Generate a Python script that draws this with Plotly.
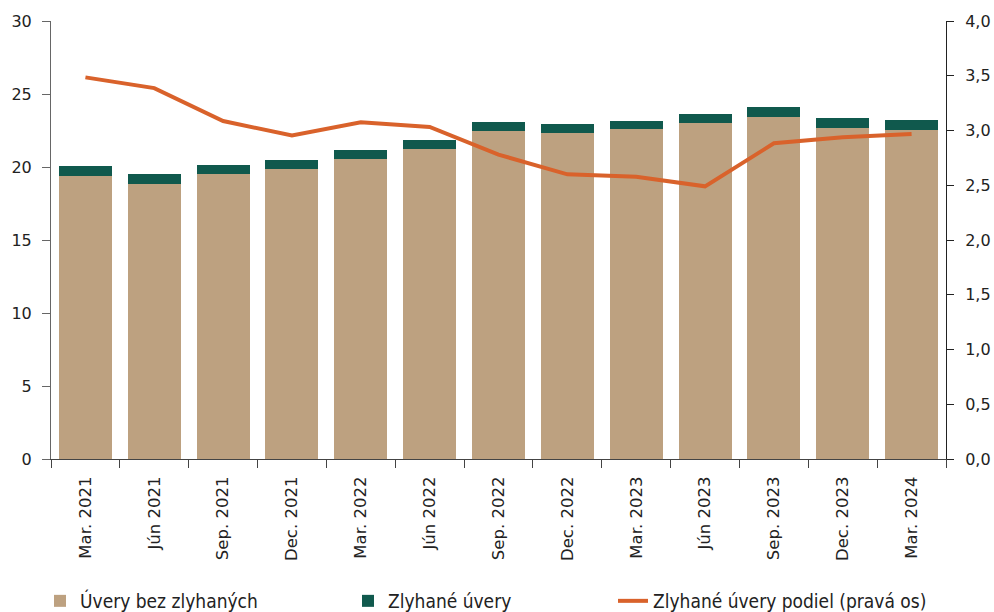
import plotly.graph_objects as go

categories = ["Mar. 2021", "Jún 2021", "Sep. 2021", "Dec. 2021", "Mar. 2022", "Jún 2022",
              "Sep. 2022", "Dec. 2022", "Mar. 2023", "Jún 2023", "Sep. 2023", "Dec. 2023", "Mar. 2024"]
performing = [19.36, 18.83, 19.54, 19.88, 20.54, 21.23, 22.46, 22.35, 22.58, 23.01, 23.43, 22.67, 22.53]
npl = [0.68, 0.66, 0.59, 0.60, 0.65, 0.64, 0.65, 0.62, 0.57, 0.60, 0.71, 0.67, 0.67]
npl_share = [3.485, 3.387, 3.087, 2.954, 3.076, 3.033, 2.78, 2.60, 2.578, 2.49, 2.883, 2.938, 2.968]

TAN = "#BDA180"
GREEN = "#10594D"
ORANGE = "#D9622B"
FONT = "DejaVu Sans"

fig = go.Figure()
fig.add_trace(go.Bar(x=categories, y=performing, name="Úvery bez zlyhaných",
                     marker=dict(color=TAN, line=dict(width=0)), legend="legend"))
fig.add_trace(go.Bar(x=categories, y=npl, name="Zlyhané úvery",
                     marker=dict(color=GREEN, line=dict(width=0)), legend="legend2"))
fig.add_trace(go.Scatter(x=categories, y=npl_share, name="Zlyhané úvery podiel (pravá os)",
                         mode="lines", line=dict(color=ORANGE, width=4), yaxis="y2",
                         legend="legend3"))

legend_common = dict(orientation="h", xref="container", yref="container",
                     yanchor="middle", y=1 - 601 / 612, xanchor="left",
                     font=dict(family="DejaVu Sans Condensed, " + FONT, size=19, color="#222"),
                     bgcolor="rgba(0,0,0,0)")

fig.update_layout(
    width=994, height=612,
    margin=dict(l=51, r=48, t=21, b=153, autoexpand=False),
    showlegend=True,
    barmode="stack", bargap=0.23,
    plot_bgcolor="white", paper_bgcolor="white",
    separators=", ",
    font=dict(family=FONT, size=16, color="#222"),
    legend=dict(**legend_common, x=40 / 994),
    legend2=dict(**legend_common, x=348 / 994),
    legend3=dict(**legend_common, x=613 / 994),
    xaxis=dict(type="category", tickangle=-90, ticks="outside", tickson="boundaries",
               ticklen=8, tickcolor="#444", showline=True, linecolor="#444", linewidth=1,
               showgrid=False, tickfont=dict(size=16.5), automargin=False,
               ticklabelstandoff=10),
    yaxis=dict(range=[0, 30], dtick=5, ticks="outside", ticklen=8, tickcolor="#666",
               showline=True, linecolor="#666", linewidth=1, showgrid=False,
               zeroline=False, tickfont=dict(size=16), automargin=False,
               ticklabelstandoff=7),
    yaxis2=dict(range=[0, 4], dtick=0.5, tickformat=".1f", overlaying="y", side="right",
                ticks="outside", ticklen=7, tickcolor="#222", showline=True,
                linecolor="#222", linewidth=1, showgrid=False, zeroline=False,
                tickfont=dict(size=16), automargin=False, ticklabelstandoff=8),
)

fig.write_html(
    "out.html",
    config={"displayModeBar": False},
    post_script="document.body.style.margin='0';"
                "document.documentElement.style.overflow='hidden';",
)
